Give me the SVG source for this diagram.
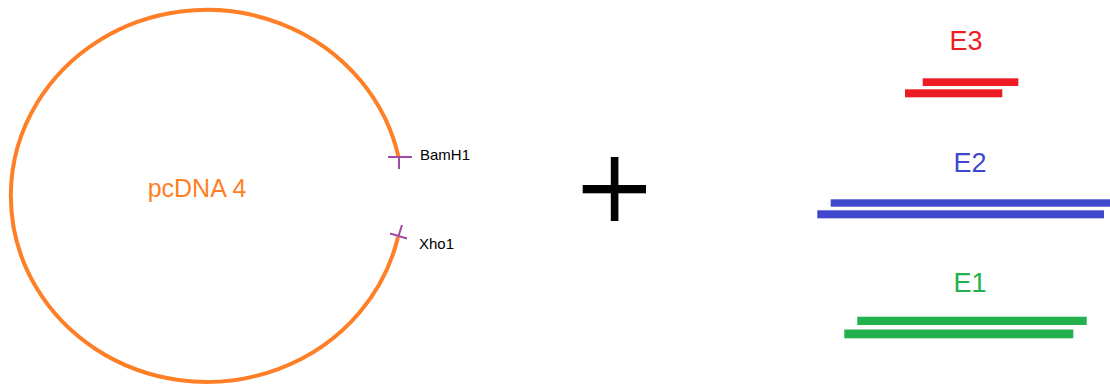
<svg xmlns="http://www.w3.org/2000/svg" width="1110" height="388" viewBox="0 0 1110 388">
<style>
  text { font-family: "Liberation Sans", Arial, sans-serif; }
  .site { stroke: #a349a4; stroke-width: 2; fill: none; stroke-linecap: butt; }
  .lbl { font-size: 15px; fill: #000; }
  .elbl { font-size: 27px; text-anchor: middle; }
</style>
<rect width="1110" height="388" fill="#fff"/>
<g id="plasmid">
  <path d="M 398.5 157 A 196 186 0 1 0 398 237" fill="none" stroke="#ff7f27" stroke-width="4"/>
  <text x="197" y="197" font-size="25" fill="#ff7f27" text-anchor="middle">pcDNA 4</text>
</g>
<g id="bamh1">
  <line class="site" x1="388" y1="157" x2="412" y2="157"/>
  <line class="site" x1="399" y1="157" x2="399" y2="169"/>
  <text class="lbl" x="420" y="160">BamH1</text>
</g>
<g id="xho1">
  <line class="site" x1="390" y1="233.5" x2="407" y2="238.5"/>
  <line class="site" x1="402" y1="225" x2="398.5" y2="236"/>
  <text class="lbl" x="419" y="248.5">Xho1</text>
</g>
<g id="plus">
  <rect x="610.8" y="157" width="7.6" height="64" fill="#000"/>
  <rect x="582.7" y="185" width="63.3" height="8.3" fill="#000"/>
</g>
<g id="e3">
  <text class="elbl" x="966" y="50" fill="#ed1c24">E3</text>
  <rect x="922.7" y="78.3" width="95.6" height="7.7" fill="#ed1c24"/>
  <rect x="905" y="89.3" width="97.3" height="8" fill="#ed1c24"/>
</g>
<g id="e2">
  <text class="elbl" x="970" y="172" fill="#3f48cc">E2</text>
  <rect x="830.7" y="199.3" width="279.3" height="7.4" fill="#3f48cc"/>
  <rect x="817.3" y="210.3" width="286.7" height="8" fill="#3f48cc"/>
</g>
<g id="e1">
  <text class="elbl" x="970" y="292" fill="#22b14c">E1</text>
  <rect x="857.3" y="316.7" width="229.4" height="8.3" fill="#22b14c"/>
  <rect x="844.3" y="329.5" width="229" height="8.8" fill="#22b14c"/>
</g>
</svg>
